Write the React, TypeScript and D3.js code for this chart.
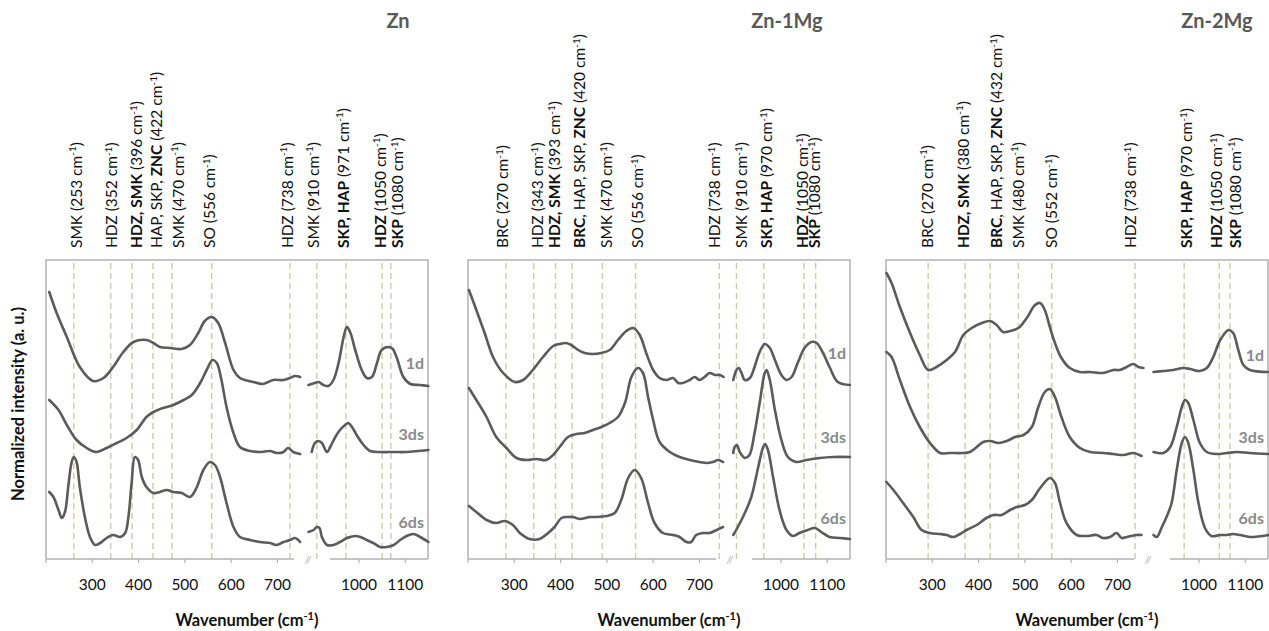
import React from "react";
import * as d3 from "d3";

type Pt = [number, number];

// ---------- categories / labels ----------
const panelTitles = ["Zn", "Zn-1Mg", "Zn-2Mg"];
const samples = ["1d", "3ds", "6ds"];
const lowTicks = [200, 300, 400, 500, 600, 700];
const lowTickLabels = [300, 400, 500, 600, 700];
const highTicks = [1000, 1100];

// ---------- spectra (wavenumber, normalized intensity) ----------
const zn1dLow: Pt[] = [[207,266],[223,245],[245,221],[273,191],[302,177],[324,180],[345,191],[367,206],[389,216],[417,218],[432,215],[446,211],[468,210],[493,209],[511,213],[529,225],[543,237],[558,241],[572,235],[587,215],[605,188],[619,180],[648,176],[669,174],[691,178],[713,178],[727,180],[738,182],[749,181]];
const zn1dHigh: Pt[] = [[891,173],[905,175],[913,176],[923,173],[934,172],[945,178],[956,195],[967,221],[974,231],[981,226],[992,208],[1006,188],[1017,180],[1028,181],[1039,195],[1049,208],[1064,211],[1073,209],[1082,200],[1096,181],[1111,174],[1132,173],[1150,172]];
const zn3dsLow: Pt[] = [[207,158],[227,148],[245,133],[266,118],[288,110],[309,106],[331,110],[353,115],[374,120],[396,128],[417,141],[432,146],[453,150],[475,153],[497,158],[515,163],[533,175],[547,188],[560,198],[569,195],[579,178],[590,151],[605,125],[619,111],[641,107],[662,106],[684,107],[698,105],[713,106],[723,110],[734,106],[749,104]];
const zn3dsHigh: Pt[] = [[898,106],[905,115],[913,117],[920,115],[931,106],[938,111],[949,121],[959,128],[970,133],[977,135],[985,131],[995,123],[1010,113],[1024,107],[1046,106],[1075,106],[1103,106],[1150,108]];
const zn6dsLow: Pt[] = [[207,66],[216,61],[227,48],[234,40],[241,46],[248,71],[255,95],[260,101],[266,96],[273,71],[284,41],[295,21],[306,13],[317,15],[331,20],[345,23],[360,21],[371,25],[378,41],[385,75],[392,101],[399,98],[407,81],[417,71],[432,65],[446,66],[461,68],[475,66],[493,65],[511,61],[525,70],[540,88],[554,96],[565,93],[576,81],[590,55],[605,31],[619,21],[641,18],[662,16],[684,15],[698,13],[713,16],[727,18],[738,20],[749,16]];
const zn6dsHigh: Pt[] = [[891,26],[902,28],[909,31],[915,30],[920,21],[931,13],[945,13],[959,16],[974,20],[981,21],[992,22],[1003,21],[1017,18],[1031,15],[1046,11],[1060,11],[1075,13],[1089,18],[1103,22],[1118,24],[1132,21],[1150,16]];

const mg1d1Low: Pt[] = [[202,268],[218,248],[236,225],[254,201],[276,185],[301,176],[319,178],[340,188],[362,201],[384,212],[398,214],[412,215],[423,213],[438,208],[452,205],[470,204],[488,205],[506,208],[524,218],[542,227],[557,230],[571,223],[585,205],[600,188],[614,180],[629,178],[643,180],[654,175],[664,175],[679,178],[690,181],[700,178],[711,181],[722,185],[733,183],[744,183],[752,181]];
const mg1d1High: Pt[] = [[897,178],[904,188],[909,190],[915,185],[922,178],[933,180],[943,191],[954,206],[965,214],[976,210],[987,198],[1001,183],[1012,178],[1023,181],[1037,196],[1051,210],[1066,216],[1077,215],[1091,205],[1105,191],[1123,176],[1149,173]];
const mg1ds3Low: Pt[] = [[202,170],[218,158],[240,141],[261,121],[283,110],[305,100],[326,98],[348,99],[369,98],[384,103],[398,111],[416,121],[434,124],[452,125],[470,128],[488,131],[506,135],[524,141],[539,155],[553,181],[567,190],[578,185],[589,161],[600,138],[614,116],[636,106],[657,101],[679,98],[700,96],[715,95],[729,96],[740,98],[751,96]];
const mg1ds3High: Pt[] = [[897,105],[900,111],[905,113],[911,106],[922,100],[932,103],[943,125],[954,155],[965,185],[969,188],[976,178],[987,148],[1001,118],[1015,101],[1033,96],[1055,98],[1084,100],[1113,101],[1149,101]];
const mg1ds6Low: Pt[] = [[202,52],[218,46],[240,38],[261,35],[279,37],[297,33],[312,25],[333,19],[355,19],[373,25],[387,31],[402,40],[416,41],[427,41],[441,39],[463,41],[477,41],[499,42],[517,45],[531,58],[546,80],[560,88],[574,80],[589,55],[603,35],[621,25],[643,23],[657,21],[672,16],[682,16],[693,23],[708,25],[722,25],[737,28],[751,31]];
const mg1ds6High: Pt[] = [[897,23],[907,31],[922,45],[936,61],[951,91],[961,110],[966,114],[972,108],[983,81],[997,48],[1012,28],[1026,22],[1040,25],[1058,28],[1073,30],[1087,26],[1105,21],[1127,20],[1149,19]];

const mg2d1Low: Pt[] = [[201,285],[212,275],[230,251],[252,225],[273,203],[291,188],[309,191],[331,198],[349,206],[367,223],[385,230],[407,235],[425,237],[439,233],[453,226],[468,227],[486,230],[504,240],[522,253],[533,255],[543,248],[554,231],[565,215],[579,200],[597,190],[619,186],[641,186],[669,185],[691,188],[705,188],[720,191],[734,194],[745,191],[756,190]];
const mg2d1High: Pt[] = [[902,186],[923,187],[945,188],[966,190],[981,189],[1002,187],[1017,190],[1031,201],[1046,218],[1064,228],[1074,225],[1085,208],[1096,193],[1110,188],[1150,186]];
const mg2ds3Low: Pt[] = [[201,206],[212,201],[230,178],[252,151],[273,131],[295,115],[317,105],[338,105],[367,105],[381,106],[396,111],[410,116],[425,117],[443,115],[461,117],[479,121],[497,123],[515,131],[529,151],[543,166],[554,169],[565,161],[579,141],[597,121],[619,110],[641,106],[669,105],[691,104],[713,103],[734,105],[752,102]];
const mg2ds3High: Pt[] = [[902,106],[923,105],[938,111],[952,131],[963,151],[970,158],[977,155],[988,138],[1002,115],[1017,106],[1038,104],[1060,105],[1082,106],[1110,105],[1150,104]];
const mg2ds6Low: Pt[] = [[201,76],[216,68],[237,55],[259,41],[277,28],[295,25],[317,24],[331,23],[345,21],[360,24],[374,28],[396,33],[417,40],[432,43],[450,43],[468,48],[482,51],[500,53],[515,58],[533,70],[554,80],[565,75],[576,55],[590,35],[612,23],[633,22],[655,23],[669,20],[684,21],[698,25],[709,20],[720,21],[741,23],[752,23]];
const mg2ds6High: Pt[] = [[902,23],[909,21],[920,31],[930,41],[941,55],[952,88],[963,115],[970,121],[977,115],[988,88],[999,55],[1013,30],[1027,22],[1046,23],[1060,23],[1074,24],[1089,23],[1110,21],[1150,23]];

// ---------- band assignments (line position, label position, text; *bold*) ----------
const znBandLines = [260, 340, 386, 431, 472, 558, 727, 909, 972, 1050, 1069];
const znBandAt = [265, 342, 396, 439, 485, 554, 721, 901, 966, 1046, 1084];
const znBandText = ["SMK (253", "HDZ (352", "*HDZ, SMK* (396", "HAP, SKP, *ZNC* (422", "SMK (470", "SO (556", "HDZ (738", "SMK (910", "*SKP, HAP* (971", "*HDZ* (1050", "*SKP* (1080"];

const mg1BandLines = [282, 342, 389, 425, 490, 562, 743, 904, 963, 1050, 1075];
const mg1BandAt = [275, 351, 387, 441, 500, 567, 733, 915, 969, 1047, 1073];
const mg1BandText = ["BRC (270", "HDZ (343", "*HDZ, SMK* (393", "*BRC*, HAP, SKP, *ZNC* (420", "SMK (470", "SO (556", "HDZ (738", "SMK (910", "*SKP, HAP* (970", "*HDZ* (1050", "*SKP* (1080"];

const mg2BandLines = [291, 371, 425, 486, 558, 738, 968, 1044, 1067];
const mg2BandAt = [289, 367, 439, 486, 558, 729, 974, 1038, 1078];
const mg2BandText = ["BRC (270", "*HDZ, SMK* (380", "*BRC*, HAP, SKP, *ZNC* (432", "SMK (480", "SO (552", "HDZ (738", "*SKP, HAP* (970", "*HDZ* (1050", "*SKP* (1080"];

// ---------- assembled tables ----------
const panels = [
  { title: panelTitles[0], low: [zn1dLow, zn3dsLow, zn6dsLow], high: [zn1dHigh, zn3dsHigh, zn6dsHigh], lines: znBandLines, at: znBandAt, text: znBandText },
  { title: panelTitles[1], low: [mg1d1Low, mg1ds3Low, mg1ds6Low], high: [mg1d1High, mg1ds3High, mg1ds6High], lines: mg1BandLines, at: mg1BandAt, text: mg1BandText },
  { title: panelTitles[2], low: [mg2d1Low, mg2ds3Low, mg2ds6Low], high: [mg2d1High, mg2ds3High, mg2ds6High], lines: mg2BandLines, at: mg2BandAt, text: mg2BandText },
];

// ---------- layout ----------
const W = 1269, H = 631;
const PANEL_LEFT = [46, 468, 886];
const TITLE_X = [398, 787, 1217];
const PANEL_W = 382;
const TOP = 260;
const AXIS_Y = 559;
const LOW_W = 254.6;
const HIGH_OFF = 262;
const HIGH_W = 120.4;
const LOW_AXIS_END = 248;
const HIGH_AXIS_START = 284;
const SAMPLE_LABEL_Y = [[195, 124, 36], [205, 121, 40], [203, 121, 40]];

const FONT = "Lato, 'Open Sans', 'DejaVu Sans', sans-serif";
const CURVE = "#5b5b5b";
const BORDER = "#b3b3b3";
const DASH = "#cdcda5";

const y = d3.scaleLinear().domain([0, 298]).range([558, TOP]);

function BandLabel({ x, text }: { x: number; text: string }) {
  const parts = text.split("*");
  return (
    <text transform={`translate(${x},248) rotate(-90)`} dy="0.36em" fontSize={15.5} fill="#111" fontFamily={FONT}>
      {parts.map((p, i) => (
        <tspan key={i} fontWeight={i % 2 === 1 ? "bold" : "normal"}>{p}</tspan>
      ))}
      <tspan> cm</tspan>
      <tspan dy={-5.5} fontSize={10}>-1</tspan>
      <tspan dy={5.5}>)</tspan>
    </text>
  );
}

function Panel({ idx }: { idx: number }) {
  const p = panels[idx];
  const pl = PANEL_LEFT[idx];
  const xl = d3.scaleLinear().domain([200, 750]).range([pl, pl + LOW_W]);
  const xh = d3.scaleLinear().domain([890, 1150]).range([pl + HIGH_OFF, pl + HIGH_OFF + HIGH_W]);
  const xAny = (v: number) => (v < 820 ? xl(v) : xh(v));
  const lineL = d3.line<Pt>().x((d) => xl(d[0])).y((d) => y(d[1])).curve(d3.curveCatmullRom.alpha(0.5));
  const lineH = d3.line<Pt>().x((d) => xh(d[0])).y((d) => y(d[1])).curve(d3.curveCatmullRom.alpha(0.5));
  const pr = pl + PANEL_W;
  return (
    <g>
      {/* title */}
      <text x={TITLE_X[idx]} y={21} dy="0.35em" textAnchor="middle" fontSize={20} fontWeight="bold" fill="#595959" fontFamily={FONT}>
        {p.title}
      </text>
      {/* band labels */}
      {p.at.map((a, i) => (
        <BandLabel key={i} x={xAny(a)} text={p.text[i]} />
      ))}
      {/* dashed band lines */}
      {p.lines.map((l, i) => (
        <line key={i} x1={xAny(l)} x2={xAny(l)} y1={TOP + 3} y2={AXIS_Y} stroke={DASH} strokeWidth={1.4} strokeDasharray="6,4" />
      ))}
      {/* frame */}
      <path d={`M${pl},${AXIS_Y}V${TOP}H${pr}V${AXIS_Y}`} fill="none" stroke={BORDER} strokeWidth={1.5} />
      <line x1={pl} x2={pl + LOW_AXIS_END} y1={AXIS_Y} y2={AXIS_Y} stroke={BORDER} strokeWidth={1.5} />
      <line x1={pl + HIGH_AXIS_START} x2={pr} y1={AXIS_Y} y2={AXIS_Y} stroke={BORDER} strokeWidth={1.5} />
      {/* axis break */}
      <text x={pl + HIGH_OFF} y={AXIS_Y} dy="0.35em" textAnchor="middle" fontSize={10} fill="#aaa" fontStyle="italic" fontFamily={FONT}>//</text>
      {/* ticks */}
      {lowTicks.map((t) => (
        <line key={t} x1={xl(t)} x2={xl(t)} y1={AXIS_Y} y2={AXIS_Y + 4} stroke={BORDER} strokeWidth={1.2} />
      ))}
      {highTicks.map((t) => (
        <line key={t} x1={xh(t)} x2={xh(t)} y1={AXIS_Y} y2={AXIS_Y + 4} stroke={BORDER} strokeWidth={1.2} />
      ))}
      {lowTickLabels.map((t) => (
        <text key={t} x={xl(t)} y={585} dy="0.35em" textAnchor="middle" fontSize={15.5} fill="#111" fontFamily={FONT}>{t}</text>
      ))}
      {highTicks.map((t) => (
        <text key={t} x={xh(t)} y={585} dy="0.35em" textAnchor="middle" fontSize={15.5} fill="#111" fontFamily={FONT}>{t}</text>
      ))}
      {/* spectra */}
      {p.low.map((s, i) => (
        <path key={"l" + i} d={lineL(s) || ""} fill="none" stroke={CURVE} strokeWidth={2.6} strokeLinejoin="round" strokeLinecap="round" />
      ))}
      {p.high.map((s, i) => (
        <path key={"h" + i} d={lineH(s) || ""} fill="none" stroke={CURVE} strokeWidth={2.6} strokeLinejoin="round" strokeLinecap="round" />
      ))}
      {/* sample labels */}
      {samples.map((s, i) => (
        <text key={s} x={pr - 4} y={y(SAMPLE_LABEL_Y[idx][i])} dy="0.35em" textAnchor="end" fontSize={16} fontWeight="bold" fill="#8a8a8a" fontFamily={FONT}>{s}</text>
      ))}
      {/* x axis title */}
      <text x={pl + 201} y={620} dy="0.35em" textAnchor="middle" fontSize={16.5} fontWeight="bold" fill="#111" fontFamily={FONT}>
        <tspan>Wavenumber (cm</tspan>
        <tspan dy={-6} fontSize={11}>-1</tspan>
        <tspan dy={6}>)</tspan>
      </text>
    </g>
  );
}

export default function App() {
  return (
    <svg width={W} height={H} viewBox={`0 0 ${W} ${H}`} style={{ position: "absolute", left: 0, top: 0, background: "#fff" }}>
      <rect width={W} height={H} fill="#fff" />
      {panels.map((_, i) => (
        <Panel key={i} idx={i} />
      ))}
      <text transform="translate(18,404) rotate(-90)" dy="0.35em" textAnchor="middle" fontSize={16.5} fontWeight="bold" fill="#111" fontFamily={FONT}>
        Normalized intensity (a. u.)
      </text>
    </svg>
  );
}
